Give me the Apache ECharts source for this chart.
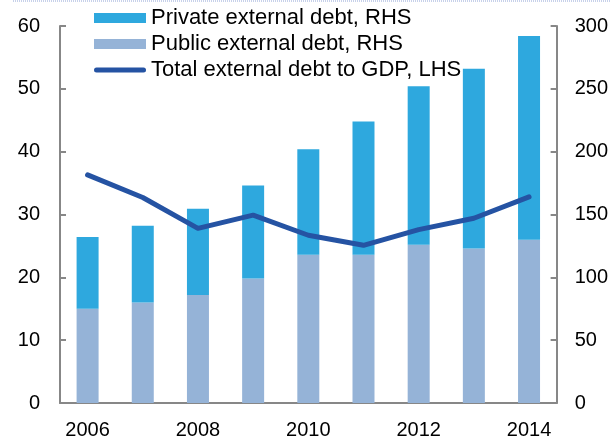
<!DOCTYPE html>
<html>
<head>
<meta charset="utf-8">
<script src="https://cdn.jsdelivr.net/npm/echarts@6/dist/echarts.min.js"></script>
<style>
    html, body { margin: 0; padding: 0; background: #fff; }
    #main { width: 611px; height: 441px; }
</style>
</head>
<body>
<div id="main"></div>
<script>
// data
var years = ['2006', '2007', '2008', '2009', '2010', '2011', '2012', '2013', '2014'];
var publicDebt = [75, 80, 86, 99, 118, 118, 126, 123, 130];      // RHS
var privateDebt = [57, 61, 68.5, 74, 84, 106, 126, 143, 162];    // RHS
var debtToGdp = [36.3, 32.7, 27.8, 29.9, 26.7, 25.1, 27.6, 29.4, 32.8]; // LHS

var FONT = 'Liberation Sans, Arial, sans-serif';
var AXIS_COLOR = '#878787';
var LINE_ICON = 'path://M2.5,0 L49.5,0 A2.5,2.5 0 0 1 49.5,5 L2.5,5 A2.5,2.5 0 0 1 2.5,0 Z';

/*==========================================
 * 简单的深拷贝合并
 */
function deepMerge(target, src) {
    for (var k in src) {
        var v = src[k];
        if (v && typeof v === 'object' && !Array.isArray(v)) {
            target[k] = deepMerge(target[k] && typeof target[k] === 'object' ? target[k] : {}, v);
        } else {
            target[k] = v;
        }
    }
    return target;
}

function valueAxis(extra) {
    var base = {
        type: 'value',
        axisLine: { show: true, lineStyle: { color: AXIS_COLOR, width: 2 } },
        axisTick: { show: true, inside: true, length: 6, lineStyle: { color: AXIS_COLOR, width: 2 } },
        splitLine: { show: false },
        axisLabel: { color: '#000', fontFamily: FONT, fontSize: 20 }
    };
    return deepMerge(base, extra);
}

function renderChart() {
    var myChart = echarts.init(document.getElementById('main'), null, { renderer: 'canvas' });

    var option = {
        animation: false,
        textStyle: { fontFamily: FONT },
        grid: { left: 60, right: 54, top: 26, bottom: 38 },
        legend: {
            orient: 'vertical',
            left: 94,
            top: 7,
            padding: 0,
            itemWidth: 52,
            itemHeight: 10,
            itemGap: 4,
            symbolKeepAspect: true,
            textStyle: { color: '#000', fontFamily: FONT, fontSize: 22, lineHeight: 22 },
            data: [
                { name: 'Private external debt, RHS', icon: 'rect' },
                { name: 'Public external debt, RHS', icon: 'rect' },
                { name: 'Total external debt to GDP, LHS', icon: LINE_ICON, itemStyle: { color: '#2553a3' } }
            ]
        },
        xAxis: {
            type: 'category',
            data: years,
            axisLine: { lineStyle: { color: AXIS_COLOR, width: 2 } },
            axisTick: { show: false },
            axisLabel: { interval: 1, color: '#000', fontFamily: FONT, fontSize: 20, margin: 17 }
        },
        yAxis: [
            valueAxis({ position: 'left', min: 0, max: 60, interval: 10, axisLabel: { margin: 20 } }),
            valueAxis({ position: 'right', min: 0, max: 300, interval: 50, axisLabel: { margin: 18 } })
        ],
        series: [
            {
                name: 'Public external debt, RHS',
                type: 'bar',
                stack: 'debt',
                yAxisIndex: 1,
                barWidth: 22,
                itemStyle: { color: '#95b3d7' },
                data: publicDebt
            },
            {
                name: 'Private external debt, RHS',
                type: 'bar',
                stack: 'debt',
                yAxisIndex: 1,
                barWidth: 22,
                itemStyle: { color: '#2ea8de' },
                data: privateDebt
            },
            {
                name: 'Total external debt to GDP, LHS',
                type: 'line',
                yAxisIndex: 0,
                symbol: 'none',
                z: 5,
                lineStyle: { color: '#2553a3', width: 5, cap: 'round', join: 'round' },
                itemStyle: { color: '#2553a3' },
                data: debtToGdp
            }
        ],
        graphic: [{
            type: 'line',
            shape: { x1: 13, y1: 1, x2: 611, y2: 1 },
            style: { stroke: '#8fa3d6', lineWidth: 1, lineDash: [1, 1] }
        }]
    };

    myChart.setOption(option, true);
}

renderChart();
</script>
</body>
</html>
